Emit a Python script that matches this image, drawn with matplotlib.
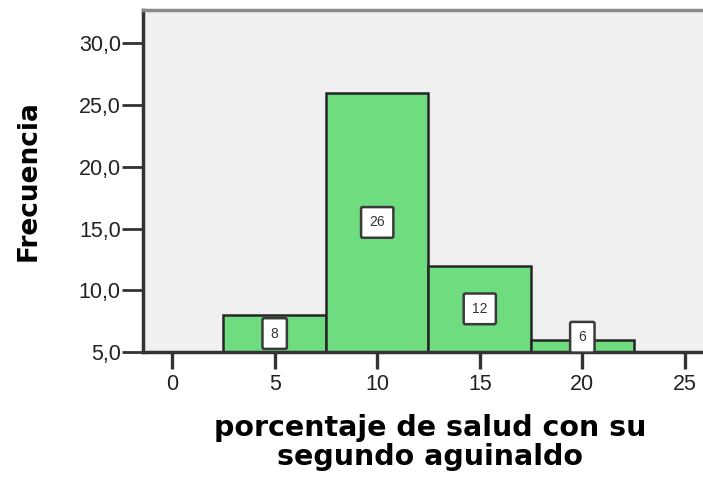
import matplotlib.pyplot as plt
from matplotlib.ticker import FuncFormatter

# histogram of percentages, bins of width 5
bin_centers = [5, 10, 15, 20]
counts = [8, 26, 12, 6]
bin_width = 5
x_ticks = [0, 5, 10, 15, 20, 25]
y_ticks = [5, 10, 15, 20, 25, 30]
y_min, y_max = 5.0, 32.7

fig = plt.figure(figsize=(7.03, 4.79), dpi=100)
ax = fig.add_axes([0.2034, 0.265, 0.80, 0.714])
ax.set_facecolor('#f0f0f0')

ax.bar(bin_centers, [c - y_min for c in counts], width=bin_width, bottom=y_min,
       color='#70dc80', edgecolor='#262626', linewidth=1.8, zorder=2)

# count labels in small boxes, kept above the baseline
half_box = 1.2
for xc, c in zip(bin_centers, counts):
    yl = max((c + y_min) / 2, y_min + half_box)
    ax.text(xc, yl, str(c), ha='center', va='center', fontsize=10,
            family='Liberation Sans', color='#333333', zorder=4,
            bbox=dict(boxstyle='round,pad=0.6,rounding_size=0.12',
                      facecolor='white', edgecolor='#3a3a3a', linewidth=1.8))

ax.set_xlim(-1.42, 26.0)
ax.set_ylim(y_min, y_max)
ax.set_xticks(x_ticks)
ax.set_yticks(y_ticks)
ax.yaxis.set_major_formatter(FuncFormatter(lambda v, p: f'{v:.1f}'.replace('.', ',')))

for lab in ax.get_xticklabels() + ax.get_yticklabels():
    lab.set_family('Liberation Sans')
    lab.set_fontsize(15.5)
    lab.set_color('#222222')

ax.tick_params(axis='y', direction='out', length=15, width=2, color='#333333', pad=1)
ax.tick_params(axis='x', direction='out', length=12, width=2.4, color='#333333', pad=4)

ax.spines['left'].set_color('#333333')
ax.spines['left'].set_linewidth(2.5)
ax.spines['bottom'].set_color('#333333')
ax.spines['bottom'].set_linewidth(2.5)
ax.spines['top'].set_color('#8a8a8a')
ax.spines['top'].set_linewidth(2.5)
ax.spines['right'].set_visible(False)

ax.set_ylabel('Frecuencia', fontsize=19, fontweight='bold', family='DejaVu Sans')
ax.yaxis.set_label_coords(-0.18, 0.5)
ax.set_xlabel('porcentaje de salud con su\nsegundo aguinaldo', fontsize=20.5,
              fontweight='bold', family='DejaVu Sans', linespacing=1.05)
ax.xaxis.set_label_coords(0.51, -0.18)

fig.savefig('out.png', dpi=100)
